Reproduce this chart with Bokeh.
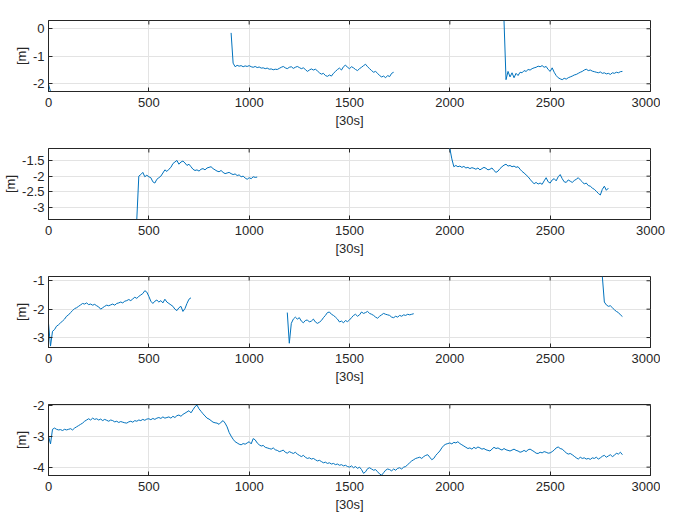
from bokeh.plotting import figure
from bokeh.layouts import column
from bokeh.models import FixedTicker, CustomJSTickFormatter, Range1d
from bokeh.embed import file_html
from bokeh.resources import INLINE

# ---------------- data (sample index in units of 30 s, value in m) ----------------
STEP = 10
x_ticks = [0, 500, 1000, 1500, 2000, 2500, 3000]
x_lim = (0, 3000)
x_label = "[30s]"
y_label = "[m]"

# panel 1
p1_y_ticks = [-2, -1, 0]
p1_y_lim = (-2.28, 0.30)
p1_s0_start = 0
p1_s0 = [-2.02, -2.28]
p1_s1_start = 910
p1_s1 = [-0.15, -1.25, -1.38, -1.33, -1.36, -1.34, -1.38, -1.35, -1.37, -1.34,
         -1.38, -1.40, -1.37, -1.41, -1.39, -1.43, -1.42, -1.45, -1.43, -1.47,
         -1.46, -1.49, -1.47, -1.48, -1.44, -1.40, -1.37, -1.42, -1.45, -1.40,
         -1.38, -1.44, -1.40, -1.37, -1.41, -1.45, -1.42, -1.48, -1.55, -1.50,
         -1.46, -1.50, -1.47, -1.53, -1.60, -1.65, -1.62, -1.70, -1.73, -1.68,
         -1.72, -1.62, -1.55, -1.48, -1.43, -1.50, -1.38, -1.32, -1.40, -1.45,
         -1.38, -1.42, -1.48, -1.52, -1.45, -1.40, -1.34, -1.29, -1.38, -1.45,
         -1.52, -1.58, -1.55, -1.62, -1.70, -1.75, -1.72, -1.78, -1.70, -1.74,
         -1.62, -1.58]
p1_s2_start = 2270
p1_s2 = [0.30, -1.85, -1.55, -1.75, -1.60, -1.78, -1.62, -1.70, -1.58, -1.60,
         -1.52, -1.55, -1.48, -1.50, -1.45, -1.42, -1.40, -1.36, -1.38, -1.34,
         -1.40, -1.37, -1.48, -1.55, -1.42, -1.58, -1.70, -1.78, -1.82, -1.85,
         -1.80, -1.83, -1.78, -1.75, -1.72, -1.68, -1.66, -1.62, -1.58, -1.55,
         -1.50, -1.47, -1.52, -1.50, -1.54, -1.56, -1.58, -1.60, -1.57, -1.62,
         -1.60, -1.64, -1.62, -1.66, -1.60, -1.62, -1.58, -1.60, -1.56, -1.55]

# panel 2
p2_y_ticks = [-3, -2.5, -2, -1.5]
p2_y_lim = (-3.38, -1.12)
p2_s1_start = 440
p2_s1 = [-3.38, -2.00, -1.95, -1.88, -2.02, -1.97, -2.02, -2.05, -2.18, -2.22,
         -2.10, -2.05, -2.00, -1.90, -1.80, -1.85, -1.78, -1.72, -1.60, -1.55,
         -1.50, -1.62, -1.55, -1.52, -1.58, -1.66, -1.62, -1.70, -1.78, -1.82,
         -1.80, -1.84, -1.78, -1.76, -1.80, -1.74, -1.72, -1.70, -1.76, -1.80,
         -1.84, -1.86, -1.82, -1.88, -1.92, -1.90, -1.88, -1.92, -1.95, -1.93,
         -1.98, -1.96, -2.02, -2.00, -2.06, -2.10, -2.05, -2.08, -2.02, -2.04,
         -2.03]
p2_s2_start = 2000
p2_s2 = [-1.12, -1.45, -1.70, -1.66, -1.70, -1.68, -1.72, -1.69, -1.74, -1.72,
         -1.76, -1.73, -1.75, -1.78, -1.74, -1.80, -1.76, -1.72, -1.75, -1.80,
         -1.78, -1.74, -1.82, -1.88, -1.84, -1.76, -1.70, -1.65, -1.62, -1.68,
         -1.66, -1.70, -1.68, -1.72, -1.70, -1.78, -1.85, -1.90, -1.96, -2.02,
         -2.10, -2.18, -2.24, -2.20, -2.25, -2.22, -2.26, -2.15, -2.05, -2.18,
         -2.22, -2.12, -2.08, -2.15, -2.02, -1.95, -2.08, -2.18, -2.20, -2.12,
         -2.16, -2.20, -2.14, -2.10, -2.05, -2.12, -2.18, -2.25, -2.22, -2.30,
         -2.32, -2.38, -2.42, -2.48, -2.55, -2.60, -2.42, -2.32, -2.45, -2.38]

# panel 3
p3_y_ticks = [-3, -2, -1]
p3_y_lim = (-3.35, -0.85)
p3_s1_start = 0
p3_s1 = [-2.50, -3.30, -2.78, -2.72, -2.60, -2.55, -2.48, -2.42, -2.35, -2.25,
         -2.20, -2.12, -2.05, -1.98, -1.95, -1.90, -1.85, -1.80, -1.82, -1.78,
         -1.84, -1.82, -1.86, -1.83, -1.88, -1.92, -2.00, -1.95, -1.90, -1.86,
         -1.88, -1.85, -1.82, -1.86, -1.80, -1.78, -1.75, -1.78, -1.72, -1.70,
         -1.66, -1.70, -1.64, -1.58, -1.62, -1.55, -1.50, -1.45, -1.35, -1.40,
         -1.55, -1.72, -1.80, -1.72, -1.68, -1.75, -1.70, -1.78, -1.65, -1.75,
         -1.80, -1.85, -1.90, -2.00, -2.05, -1.95, -1.90, -2.08, -1.98, -1.80,
         -1.65, -1.60]
p3_s2_start = 1190
p3_s2 = [-2.12, -3.20, -2.50, -2.35, -2.28, -2.35, -2.30, -2.42, -2.48, -2.40,
         -2.38, -2.45, -2.42, -2.35, -2.45, -2.50, -2.46, -2.40, -2.30, -2.22,
         -2.12, -2.10, -2.18, -2.22, -2.28, -2.35, -2.45, -2.42, -2.48, -2.40,
         -2.44, -2.38, -2.30, -2.22, -2.18, -2.25, -2.20, -2.10, -2.15, -2.12,
         -2.08, -2.15, -2.18, -2.22, -2.28, -2.32, -2.25, -2.20, -2.15, -2.18,
         -2.20, -2.22, -2.28, -2.30, -2.25, -2.28, -2.22, -2.25, -2.20, -2.22,
         -2.18, -2.20, -2.18, -2.16]
p3_s3_start = 2760
p3_s3 = [-0.85, -1.75, -1.85, -1.90, -1.88, -1.95, -2.02, -2.08, -2.12, -2.20,
         -2.26]

# panel 4
p4_y_ticks = [-4, -3, -2]
p4_y_lim = (-4.27, -1.98)
p4_s1_start = 0
p4_s1 = [-3.00, -3.25, -2.78, -2.74, -2.78, -2.80, -2.79, -2.82, -2.78, -2.80,
         -2.78, -2.76, -2.80, -2.74, -2.70, -2.66, -2.62, -2.58, -2.52, -2.48,
         -2.44, -2.48, -2.42, -2.46, -2.44, -2.48, -2.45, -2.50, -2.46, -2.49,
         -2.52, -2.48, -2.50, -2.54, -2.52, -2.56, -2.53, -2.55, -2.57, -2.58,
         -2.54, -2.52, -2.55, -2.50, -2.52, -2.48, -2.50, -2.46, -2.49, -2.45,
         -2.44, -2.47, -2.43, -2.46, -2.42, -2.40, -2.43, -2.38, -2.42, -2.40,
         -2.38, -2.42, -2.36, -2.40, -2.34, -2.32, -2.36, -2.30, -2.26, -2.22,
         -2.18, -2.25, -2.15, -2.05, -2.00, -2.12, -2.20, -2.28, -2.35, -2.42,
         -2.45, -2.50, -2.55, -2.57, -2.58, -2.62, -2.55, -2.50, -2.58, -2.70,
         -2.88, -3.00, -3.10, -3.18, -3.22, -3.26, -3.28, -3.24, -3.26, -3.22,
         -3.18, -3.25, -3.08, -3.12, -3.22, -3.28, -3.32, -3.30, -3.36, -3.38,
         -3.40, -3.42, -3.38, -3.44, -3.46, -3.50, -3.48, -3.45, -3.52, -3.55,
         -3.50, -3.53, -3.56, -3.52, -3.58, -3.62, -3.66, -3.62, -3.68, -3.72,
         -3.70, -3.74, -3.72, -3.76, -3.80, -3.78, -3.82, -3.86, -3.84, -3.88,
         -3.86, -3.90, -3.88, -3.92, -3.90, -3.94, -3.92, -3.96, -3.94, -3.98,
         -4.00, -3.96, -4.02, -3.98, -4.04, -4.00, -4.08, -4.20, -4.15, -4.05,
         -4.02, -4.06, -4.10, -4.08, -4.15, -4.22, -4.26, -4.18, -4.10, -4.06,
         -4.08, -4.12, -4.06, -4.10, -4.04, -4.02, -4.06, -4.00, -3.98, -3.92,
         -3.86, -3.80, -3.76, -3.72, -3.70, -3.68, -3.72, -3.66, -3.62, -3.60,
         -3.68, -3.76, -3.72, -3.62, -3.55, -3.48, -3.38, -3.30, -3.26, -3.24,
         -3.22, -3.25, -3.20, -3.22, -3.18, -3.24, -3.28, -3.32, -3.36, -3.40,
         -3.38, -3.42, -3.36, -3.40, -3.35, -3.38, -3.42, -3.40, -3.44, -3.46,
         -3.48, -3.42, -3.36, -3.40, -3.38, -3.42, -3.45, -3.40, -3.44, -3.46,
         -3.48, -3.45, -3.42, -3.46, -3.48, -3.52, -3.50, -3.46, -3.50, -3.44,
         -3.42, -3.46, -3.50, -3.55, -3.56, -3.52, -3.54, -3.50, -3.52, -3.55,
         -3.54, -3.50, -3.45, -3.38, -3.35, -3.40, -3.42, -3.48, -3.54, -3.58,
         -3.56, -3.60, -3.65, -3.70, -3.74, -3.68, -3.72, -3.70, -3.74, -3.72,
         -3.75, -3.70, -3.72, -3.68, -3.74, -3.70, -3.65, -3.62, -3.68, -3.64,
         -3.60, -3.66, -3.62, -3.55, -3.58, -3.52, -3.60]

panels = [
    (p1_y_lim, p1_y_ticks, [(p1_s0_start, p1_s0), (p1_s1_start, p1_s1), (p1_s2_start, p1_s2)]),
    (p2_y_lim, p2_y_ticks, [(p2_s1_start, p2_s1), (p2_s2_start, p2_s2)]),
    (p3_y_lim, p3_y_ticks, [(p3_s1_start, p3_s1), (p3_s2_start, p3_s2), (p3_s3_start, p3_s3)]),
    (p4_y_lim, p4_y_ticks, [(p4_s1_start, p4_s1)]),
]

# ---------------- style ----------------
FONT = "Liberation Sans"
FS = "13px"
AX = "#262626"
LINE = "#0072BD"
GRID = "#e3e3e3"
FW, FH = 602, 71
TICK_PX = 4

fmt = CustomJSTickFormatter(code="return String(tick);")

figs = []
for i, (ylim, yt, segs) in enumerate(panels):
    p = figure(frame_width=FW, frame_height=FH, output_backend="svg",
               toolbar_location=None, x_range=Range1d(*x_lim),
               y_range=Range1d(ylim[0], ylim[1]),
               min_border_left=41, min_border_right=17,
               min_border_top=(20 if i == 0 else 18), min_border_bottom=39)
    p.background_fill_color = "white"
    p.border_fill_color = "white"
    p.outline_line_color = AX
    p.outline_line_width = 1

    xt = FixedTicker(ticks=x_ticks)
    ytk = FixedTicker(ticks=yt)
    p.xaxis.ticker = xt
    p.yaxis.ticker = ytk
    p.xaxis.formatter = fmt
    p.yaxis.formatter = fmt
    p.xgrid.ticker = xt
    p.ygrid.ticker = ytk
    p.grid.grid_line_color = GRID
    p.grid.grid_line_width = 1

    for ax in p.xaxis + p.yaxis:
        ax.axis_line_color = AX
        ax.major_tick_line_color = AX
        ax.major_tick_in = TICK_PX
        ax.major_tick_out = 0
        ax.minor_tick_in = 0
        ax.minor_tick_out = 0
        ax.major_label_text_font = FONT
        ax.major_label_text_font_size = FS
        ax.major_label_text_color = AX
        ax.axis_label_text_font = FONT
        ax.axis_label_text_font_size = FS
        ax.axis_label_text_font_style = "normal"
        ax.axis_label_text_color = AX
    p.xaxis.axis_label = x_label
    p.yaxis.axis_label = y_label
    p.xaxis.major_label_standoff = 6
    p.xaxis.axis_label_standoff = 3
    p.yaxis.major_label_standoff = 4
    p.yaxis.axis_label_standoff = 1

    # inward ticks on the top and right edges (box on)
    dy = (ylim[1] - ylim[0]) * TICK_PX / FH
    dx = (x_lim[1] - x_lim[0]) * TICK_PX / FW
    p.segment(x0=x_ticks, x1=x_ticks, y0=[ylim[1]] * len(x_ticks),
              y1=[ylim[1] - dy] * len(x_ticks), line_color=AX, line_width=1)
    p.segment(x0=[x_lim[1]] * len(yt), x1=[x_lim[1] - dx] * len(yt),
              y0=yt, y1=yt, line_color=AX, line_width=1)

    for start, vals in segs:
        xs = [start + STEP * k for k in range(len(vals))]
        p.line(xs, vals, line_color=LINE, line_width=1)

    figs.append(p)

layout = column(*figs, spacing=0)
open("out.html", "w").write(file_html(layout, INLINE))
